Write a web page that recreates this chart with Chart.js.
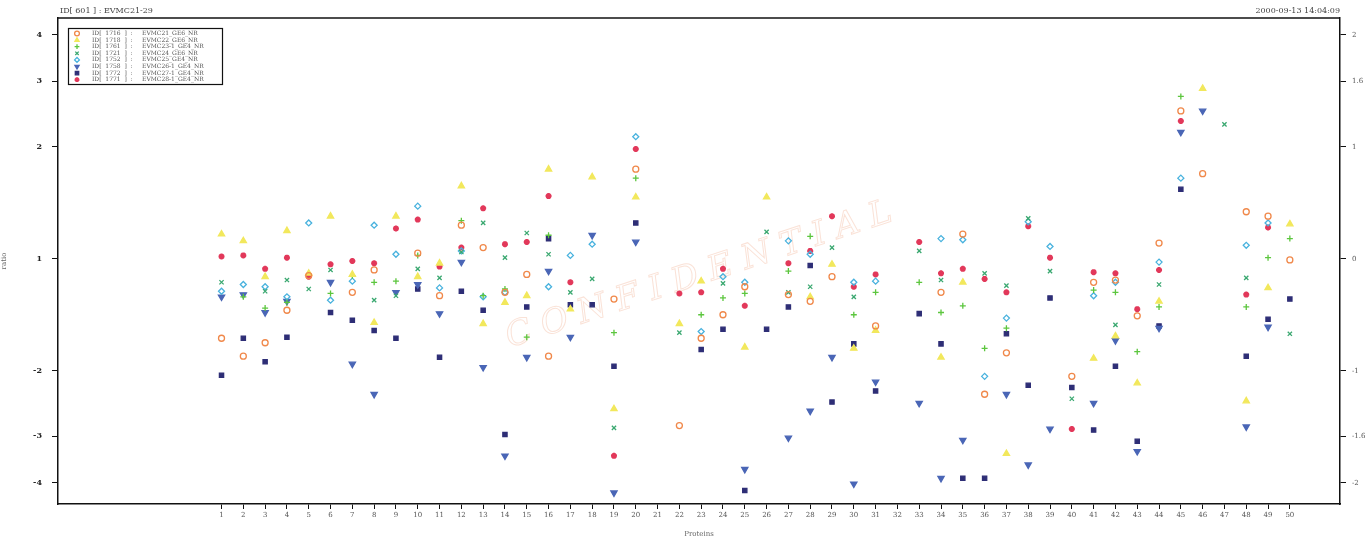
<!DOCTYPE html>
<html>
<head>
<meta charset="utf-8">
<script src="https://cdn.jsdelivr.net/npm/chart.js@4/dist/chart.umd.min.js"></script>
<style>
html, body { margin: 0; padding: 0; background: #fff; }
</style>
</head>
<body>
<canvas id="grafico" width="1371" height="538"></canvas>
<script>
// proteinas no eixo x
var proteinas = ['1','2','3','4','5','6','7','8','9','10','11','12','13','14','15','16','17','18','19','20',
  '21','22','23','24','25','26','27','28','29','30','31','32','33','34','35','36','37','38','39','40',
  '41','42','43','44','45','46','47','48','49','50'];

// eixo y: valores log2 e os rotulos dos dois lados
var marcasLog2 = [2, 1.585, 1, 0, -1, -1.585, -2];
var rotulosEsq = ['4', '3', '2', '1', '-2', '-3', '-4'];
var rotulosDir = ['2', '1.6', '1', '0', '-1', '-1.6', '-2'];

var ids = ['1716', '1718', '1761', '1721', '1752', '1758', '1772', '1771'];
var nomes = ['EVMC21_GE6_NR', 'EVMC22_GE6_NR', 'EVMC23-1_GE4_NR', 'EVMC24_GE6_NR',
  'EVMC25_GE4_NR', 'EVMC26-1_GE4_NR', 'EVMC27-1_GE4_NR', 'EVMC28-1_GE4_NR'];

// razoes (log2) por proteina, null = sem valor
var evmc21 = [-0.71,-0.87,-0.75,-0.46,-0.15,null,-0.30,-0.10,null,0.05,-0.33,0.30,0.10,-0.30,-0.14,-0.87,null,null,-0.36,0.80,
  null,-1.49,-0.71,-0.50,-0.25,null,-0.32,-0.38,-0.16,null,-0.60,null,null,-0.30,0.22,-1.21,-0.84,null,null,-1.05,
  -0.21,-0.19,-0.51,0.14,1.32,0.76,null,0.42,0.38,-0.01];
var evmc22 = [0.22,0.16,-0.16,0.25,-0.13,0.38,-0.14,-0.57,0.38,-0.16,-0.04,0.65,-0.58,-0.39,-0.33,0.80,-0.45,0.73,-1.34,0.55,
  null,-0.58,-0.20,null,-0.79,0.55,null,-0.34,-0.05,-0.80,-0.64,null,null,-0.88,-0.21,null,-1.74,null,null,null,
  -0.89,-0.69,-1.11,-0.38,null,1.52,null,-1.27,-0.26,0.31];
var evmc23 = [null,-0.34,-0.44,-0.39,null,-0.31,-0.15,-0.21,-0.20,0.03,null,0.34,-0.33,-0.27,-0.70,0.21,null,null,-0.66,0.72,
  null,null,-0.50,-0.35,-0.31,null,-0.11,0.20,null,-0.50,-0.30,null,-0.21,-0.48,-0.42,-0.80,-0.62,null,null,null,
  -0.28,-0.30,-0.83,-0.43,1.45,null,null,-0.43,0.01,0.18];
var evmc24 = [-0.21,null,-0.29,-0.19,-0.27,-0.10,null,-0.37,-0.33,-0.09,-0.17,0.06,0.32,0.01,0.23,0.04,-0.30,-0.18,-1.51,null,
  null,-0.66,null,-0.22,null,0.24,-0.30,-0.25,0.10,-0.34,null,null,0.07,-0.19,null,-0.13,-0.24,0.36,-0.11,-1.25,
  null,-0.59,null,-0.23,null,null,1.20,-0.17,null,-0.67];
var evmc25 = [-0.29,-0.23,-0.25,-0.34,0.32,-0.37,-0.20,0.30,0.04,0.47,-0.26,0.07,-0.34,-0.30,null,-0.25,0.03,0.13,null,1.09,
  null,null,-0.65,-0.16,-0.21,null,0.16,0.04,null,-0.21,-0.20,null,null,0.18,0.17,-1.05,-0.53,0.33,0.11,null,
  -0.33,-0.21,null,-0.03,0.72,null,null,0.12,0.32,null];
var evmc26 = [-0.34,-0.32,-0.48,-0.38,null,-0.21,-0.94,-1.21,-0.30,-0.23,-0.49,-0.03,-0.97,-1.76,-0.88,-0.11,-0.70,0.21,-2.09,0.15,
  null,null,null,null,-1.88,null,-1.60,-1.36,-0.88,-2.01,-1.10,null,-1.29,-1.96,-1.62,null,-1.21,-1.84,-1.52,null,
  -1.29,-0.73,-1.72,-0.62,1.13,1.32,null,-1.50,-0.61,null];
var evmc27 = [-1.04,-0.71,-0.92,-0.70,null,-0.48,-0.55,-0.64,-0.71,-0.27,-0.88,-0.29,-0.46,-1.57,-0.43,0.18,-0.41,-0.41,-0.96,0.32,
  null,null,-0.81,-0.63,-2.07,-0.63,-0.43,-0.06,-1.28,-0.76,-1.18,null,-0.49,-0.76,-1.96,-1.96,-0.67,-1.13,-0.35,-1.15,
  -1.53,-0.96,-1.63,-0.60,0.62,null,null,-0.87,-0.54,-0.36];
var evmc28 = [0.02,0.03,-0.09,0.01,-0.16,-0.05,-0.02,-0.04,0.27,0.35,-0.07,0.10,0.45,0.13,0.15,0.56,-0.21,null,-1.76,0.98,
  null,-0.31,-0.30,-0.09,-0.42,null,-0.04,0.07,0.38,-0.25,-0.14,null,0.15,-0.13,-0.09,-0.18,-0.30,0.29,0.01,-1.52,
  -0.12,-0.13,-0.45,-0.10,1.23,null,null,-0.32,0.28,null];

var series = [evmc21, evmc22, evmc23, evmc24, evmc25, evmc26, evmc27, evmc28];
var cores = ['#f0884a', '#f2e85c', '#5cc63e', '#3aa870', '#48b2de', '#4a66b6', '#2e2e76', '#e2385a'];
var estilos = ['circle', 'triangle', 'cross', 'crossRot', 'rectRot', 'triangle', 'rect', 'star'];
var cheios = [false, true, false, false, false, true, true, true];
var rotacoes = [0, 0, 0, 0, 0, 180, 0, 0];

function PegarPontos(serie) {
  var pontos = [];
  serie.forEach(function (v, i) {
    if (v !== null) pontos.push({ x: i + 1, y: v });
  });
  return pontos;
}

var datasets = series.map(function (serie, i) {
  return {
    label: 'ID[ ' + ids[i] + ' ] : ' + nomes[i],
    data: PegarPontos(serie),
    pointStyle: estilos[i],
    rotation: rotacoes[i],
    pointRadius: estilos[i] === 'triangle' ? 3.6 : 3,
    borderColor: cores[i],
    backgroundColor: cheios[i] ? cores[i] : 'rgba(0,0,0,0)',
    borderWidth: estilos[i] === 'star' ? 2 : 1.3
  };
});

var fonteSerif = '"DejaVu Serif", "Liberation Serif", serif';

var textosPlugin = {
  id: 'textos',
  beforeDatasetsDraw: function (chart) {
    var ctx = chart.ctx, a = chart.chartArea;
    ctx.save();
    // carimbo apagado no meio
    ctx.translate(a.left + (a.right - a.left) * 0.5, a.top + (a.bottom - a.top) * 0.53);
    ctx.rotate(-0.32);
    ctx.font = 'italic 34px ' + fonteSerif;
    ctx.strokeStyle = 'rgba(238,150,110,0.28)';
    ctx.lineWidth = 1;
    ctx.textAlign = 'center';
    ctx.textBaseline = 'middle';
    ctx.strokeText('C O N F I D E N T I A L', 0, 0);
    ctx.restore();
  },
  afterDraw: function (chart) {
    var ctx = chart.ctx, a = chart.chartArea;
    ctx.save();
    // moldura de cima
    ctx.strokeStyle = '#111';
    ctx.lineWidth = 1.5;
    ctx.beginPath();
    ctx.moveTo(a.left, a.top);
    ctx.lineTo(a.right, a.top);
    ctx.stroke();

    ctx.fillStyle = '#444';
    ctx.font = '8px ' + fonteSerif;
    ctx.textBaseline = 'bottom';
    ctx.textAlign = 'left';
    ctx.fillText('ID[ 601 ] : EVMC21-29', a.left + 2, a.top - 3);
    ctx.textAlign = 'right';
    ctx.fillText('2000-09-13 14:04:09', a.right, a.top - 3);

    // legenda
    var lx = a.left + 10, ly = a.top + 10;
    ctx.lineWidth = 1.2;
    ctx.strokeStyle = '#111';
    ctx.strokeRect(lx + 0.5, ly + 0.5, 154, 56);
    ctx.font = '6px ' + fonteSerif;
    ctx.textBaseline = 'middle';
    chart.data.datasets.forEach(function (ds, i) {
      var y = ly + 5.5 + i * 6.6;
      ctx.fillStyle = ds.backgroundColor;
      ctx.strokeStyle = ds.borderColor;
      ctx.lineWidth = ds.borderWidth;
      Chart.helpers.drawPoint(ctx, {
        pointStyle: ds.pointStyle, radius: 2.4, rotation: ds.rotation, borderWidth: ds.borderWidth
      }, lx + 9, y);
      ctx.fillStyle = '#555';
      ctx.textAlign = 'left';
      ctx.fillText('ID[  ' + ids[i] + '  ]  :', lx + 24, y);
      ctx.fillText(nomes[i], lx + 74, y);
    });
    ctx.restore();
  }
};

var ctx = document.getElementById('grafico').getContext('2d');

var grafico = new Chart(ctx, {
  type: 'scatter',
  data: { datasets: datasets },
  options: {
    responsive: false,
    animation: false,
    layout: { padding: { top: 18, left: 0, right: 0, bottom: 0 } },
    plugins: {
      legend: { display: false },
      tooltip: { enabled: false }
    },
    scales: {
      x: {
        type: 'linear',
        position: 'bottom',
        min: -6.5,
        max: 52.3,
        afterBuildTicks: function (s) {
          s.ticks = proteinas.map(function (p, i) { return { value: i + 1 }; });
        },
        afterFit: function (s) { s.height = 34; },
        ticks: {
          autoSkip: false, maxRotation: 0, padding: 2,
          color: '#555', font: { size: 7, family: fonteSerif },
          callback: function (v) { return proteinas[v - 1]; }
        },
        grid: { drawOnChartArea: false, tickLength: 5, color: '#111', lineWidth: 1 },
        border: { color: '#111', width: 1.5 },
        title: { display: true, text: 'Proteins', color: '#666', font: { size: 7, family: fonteSerif }, padding: 0 }
      },
      y: {
        position: 'left',
        min: -2.19,
        max: 2.15,
        afterBuildTicks: function (s) {
          s.ticks = marcasLog2.map(function (v) { return { value: v }; });
        },
        afterFit: function (s) { s.width = 58; },
        ticks: {
          padding: 10, color: '#222', font: { size: 8, weight: 'bold', family: fonteSerif },
          callback: function (v) { return rotulosEsq[marcasLog2.indexOf(v)]; }
        },
        grid: { drawOnChartArea: false, tickLength: 6, color: '#111' },
        border: { color: '#111', width: 1.5 },
        title: { display: true, text: 'ratio', color: '#666', font: { size: 7, family: fonteSerif }, padding: 0 }
      },
      y2: {
        position: 'right',
        min: -2.19,
        max: 2.15,
        afterBuildTicks: function (s) {
          s.ticks = marcasLog2.map(function (v) { return { value: v }; });
        },
        afterFit: function (s) { s.width = 31; },
        ticks: {
          padding: 6, color: '#555', font: { size: 7, family: fonteSerif },
          callback: function (v) { return rotulosDir[marcasLog2.indexOf(v)]; }
        },
        grid: { drawOnChartArea: false, tickLength: 6, color: '#111' },
        border: { color: '#111', width: 1.5 }
      }
    }
  },
  plugins: [textosPlugin]
});
</script>
</body>
</html>
